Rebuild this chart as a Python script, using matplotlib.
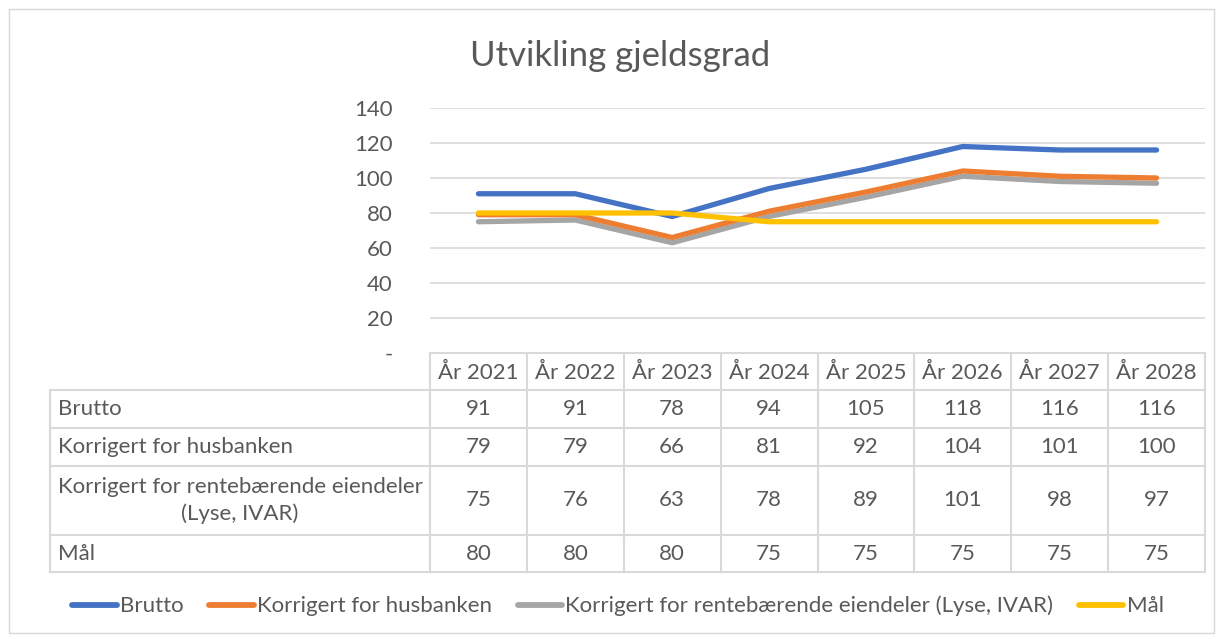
import matplotlib
matplotlib.use("Agg")
import matplotlib.pyplot as plt
from matplotlib.lines import Line2D

plt.rcParams['font.family'] = ['Lato', 'DejaVu Sans']

years = ["År 2021", "År 2022", "År 2023", "År 2024", "År 2025", "År 2026", "År 2027", "År 2028"]
series_names = ["Brutto", "Korrigert for husbanken",
                "Korrigert for rentebærende eiendeler (Lyse, IVAR)", "Mål"]
table_names = ["Brutto", "Korrigert for husbanken",
               "Korrigert for rentebærende eiendeler\n(Lyse, IVAR)", "Mål"]
brutto = [91, 91, 78, 94, 105, 118, 116, 116]
husbanken = [79, 79, 66, 81, 92, 104, 101, 100]
rentebaerende = [75, 76, 63, 78, 89, 101, 98, 97]
maal = [80, 80, 80, 75, 75, 75, 75, 75]
colors = ["#4472C4", "#ED7D31", "#A5A5A5", "#FFC000"]
yticks = [0, 20, 40, 60, 80, 100, 120, 140]
ytick_labels = ["-", "20", "40", "60", "80", "100", "120", "140"]

W, H = 1223, 639
fig = plt.figure(figsize=(W / 100, H / 100), dpi=100)
TXT = "#595959"
GRID = "#D9D9D9"

# overlay axes in pixel coords
ov = fig.add_axes([0, 0, 1, 1])
ov.set_xlim(0, W)
ov.set_ylim(H, 0)
ov.axis("off")
ov.add_patch(plt.Rectangle((9, 9), 1205, 624, fill=False, ec=GRID, lw=1))

# plot area
px_l, px_r, px_t, px_b = 430, 1205, 108, 353
ax = fig.add_axes([px_l / W, 1 - px_b / H, (px_r - px_l) / W, (px_b - px_t) / H])
ax.set_xlim(0, len(years))
ax.set_ylim(0, 140)
ax.patch.set_alpha(0)
for s in ax.spines.values():
    s.set_visible(False)
ax.set_yticks(yticks)
ax.set_yticklabels(ytick_labels, color=TXT, fontsize=16)
ax.tick_params(axis="y", length=0, pad=27)
ax.set_xticks([])
ax.grid(axis="y", color=GRID, lw=1.2)
ax.set_axisbelow(True)
xs = [i + 0.5 for i in range(len(years))]
data = [brutto, husbanken, rentebaerende, maal]
zorders = [3, 5, 4, 6]
for d, c, z in zip(data, colors, zorders):
    ax.plot(xs, d, color=c, lw=3.8, solid_capstyle="round", solid_joinstyle="round", zorder=z)

fig.text(620 / W, 1 - 56 / H, "Utvikling gjeldsgrad", ha="center", va="center",
         fontsize=25, color=TXT)

# data table
col_w = (px_r - px_l) / len(years)
row_edges = [390, 428, 466, 535, 572]
left = 50
fs = 16
ov.plot([px_l, px_r], [px_b, px_b], color=GRID, lw=1.5)
for i in range(len(years) + 1):
    x = px_l + i * col_w
    ov.plot([x, x], [px_b, row_edges[-1]], color=GRID, lw=1.5)
ov.plot([left, left], [row_edges[0], row_edges[-1]], color=GRID, lw=1.5)
for y in row_edges:
    ov.plot([left, px_r], [y, y], color=GRID, lw=1.5)
for i, yl in enumerate(years):
    ov.text(px_l + (i + 0.5) * col_w, (px_b + row_edges[0]) / 2 + 1, yl,
            ha="center", va="center", fontsize=fs, color=TXT)
for r, (name, d) in enumerate(zip(table_names, data)):
    yc = (row_edges[r] + row_edges[r + 1]) / 2
    if "\n" in name:
        ov.text((left + px_l) / 2, yc, name, ha="center", va="center",
                fontsize=fs, color=TXT, linespacing=1.38, multialignment="center")
    else:
        ov.text(left + 8, yc, name, ha="left", va="center", fontsize=fs, color=TXT)
    for i, v in enumerate(d):
        ov.text(px_l + (i + 0.5) * col_w, yc, str(v), ha="center", va="center",
                fontsize=fs, color=TXT)

handles = [Line2D([0], [0], color=c, lw=4.2, solid_capstyle="round") for c in colors]
fig.legend(handles, series_names, loc="center", bbox_to_anchor=(618 / W, 1 - 606 / H),
           ncol=4, frameon=False, fontsize=fs, handlelength=2.0, handletextpad=0.15,
           columnspacing=1.15, labelcolor=TXT)

fig.savefig("out.png", dpi=100)
